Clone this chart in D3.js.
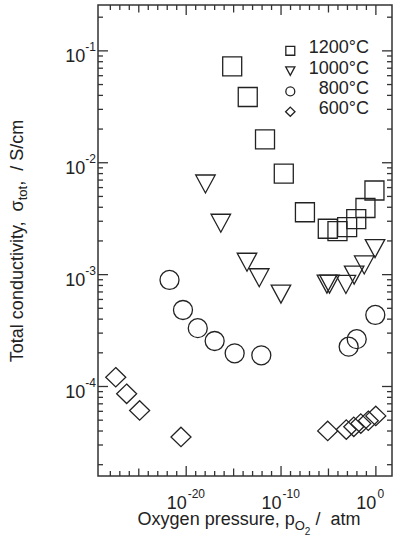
<html>
<script src="https://cdn.jsdelivr.net/npm/d3@7"></script>
<style>
body { margin: 0; background: #fff; }
text { font-family: "Liberation Sans", Arial, sans-serif; fill: #222; white-space: pre; }
.mark { fill: none; stroke: #222; stroke-width: 1.3; }
</style>
<body>
<svg width="395" height="538"></svg>
<script>
// log10 of oxygen pressure (atm) and total conductivity (S/cm) per temperature
var logP1200 = [-15.15, -13.51, -11.69, -9.71, -7.48, -5.07, -4.05, -3.03, -2.07, -1.10, -0.15];
var sig1200  = [0.0728, 0.0387, 0.0162, 0.00798, 0.00361, 0.00257, 0.00245, 0.00266, 0.00313, 0.00394, 0.00565];
var logP1000 = [-17.97, -16.35, -13.59, -12.30, -10.01, -5.16, -4.89, -3.16, -2.29, -1.23, -0.09];
var sig1000  = [0.00646, 0.00288, 0.00129, 0.000938, 0.000670, 0.000822, 0.000822, 0.000817, 0.000989, 0.00122, 0.00171];
var logP800  = [-21.76, -20.34, -18.78, -17.0, -14.89, -12.08, -2.87, -2.02, -0.06];
var sig800   = [0.000896, 0.000483, 0.000332, 0.000255, 0.000198, 0.000190, 0.000227, 0.000265, 0.000436];
var logP600  = [-27.43, -26.28, -24.91, -20.55, -5.08, -3.12, -2.33, -1.59, -0.80, -0.01];
var sig600   = [1.21e-4, 8.61e-5, 6.11e-5, 3.54e-5, 4.01e-5, 4.12e-5, 4.36e-5, 4.66e-5, 4.94e-5, 5.46e-5];

var seriesNames = ["1200°C", "1000°C", "800°C", "600°C"];
var xTickExps = [-20, -10, 0];
var yTickExps = [-1, -2, -3, -4];

var pLeft = 98, pRight = 392, pTop = 5, pBottom = 476;

var svg = d3.select("svg");

var x = d3.scaleLog().domain([Math.pow(10, -29.3), Math.pow(10, 1.7)]).range([pLeft, pRight]);
var y = d3.scaleLog().domain([Math.pow(10, -4.8), Math.pow(10, -0.59)]).range([pBottom, pTop]);

// marker shapes, k scales the size
function shape(kind, k) {
  if (kind == 0) { var s = 19 * k / 2; return "M" + (-s) + "," + (-s) + "h" + 2 * s + "v" + 2 * s + "h" + (-2 * s) + "Z"; }
  if (kind == 1) { var w = 19.5 * k / 2, h = 18 * k / 2; return "M" + (-w) + "," + (-h) + "L" + w + "," + (-h) + "L0," + h + "Z"; }
  if (kind == 2) { var r = 9.5 * k; return "M" + r + ",0A" + r + "," + r + " 0 1,1 " + (-r) + ",0A" + r + "," + r + " 0 1,1 " + r + ",0Z"; }
  var dw = 10 * k, dh = 9.7 * k;
  return "M0," + (-dh) + "L" + dw + ",0L0," + dh + "L" + (-dw) + ",0Z";
}

// frame
svg.append("rect").attr("x", pLeft).attr("y", pTop).attr("width", pRight - pLeft).attr("height", pBottom - pTop)
  .attr("fill", "none").attr("stroke", "#333").attr("stroke-width", 1.5);

// x ticks, every decade, inward on bottom and top
var xt = d3.range(-28, 1);
var ga = svg.append("g").attr("stroke", "#333").attr("stroke-width", 1.3);
xt.forEach(function(e) {
  var px = x(Math.pow(10, e));
  var len = e % 10 == 0 ? 10 : (e % 5 == 0 ? 7.5 : 5);
  ga.append("line").attr("x1", px).attr("x2", px).attr("y1", pBottom).attr("y2", pBottom - len);
  ga.append("line").attr("x1", px).attr("x2", px).attr("y1", pTop).attr("y2", pTop + len);
});

// y ticks, decades and 2..9
var yt = [];
for (var d = -5; d <= -1; d++) for (var m = 1; m <= 9; m++) {
  var v = m * Math.pow(10, d);
  if (v >= y.domain()[0] && v <= y.domain()[1]) yt.push({v: v, major: m == 1});
}
yt.forEach(function(t) {
  var py = y(t.v), len = t.major ? 10 : 5;
  ga.append("line").attr("x1", pLeft).attr("x2", pLeft + len).attr("y1", py).attr("y2", py);
  ga.append("line").attr("x1", pRight).attr("x2", pRight - len).attr("y1", py).attr("y2", py);
});

// tick labels: the "10" ends at the tick, exponent follows
xTickExps.forEach(function(e) {
  var px = x(Math.pow(10, e));
  var t = svg.append("text").attr("y", 509).attr("font-size", 18);
  var base = t.append("tspan").text("10");
  t.append("tspan").attr("dx", 1).attr("dy", -11).attr("font-size", 12).text(e == 0 ? "0" : "-" + (-e));
  t.attr("x", px + 0.5 - base.node().getComputedTextLength());
});
yTickExps.forEach(function(e) {
  var py = y(Math.pow(10, e));
  var t = svg.append("text").attr("x", 96).attr("y", py + 11.5).attr("text-anchor", "end").attr("font-size", 18);
  t.append("tspan").text("10");
  t.append("tspan").attr("dy", -11).attr("font-size", 12).text("-" + (-e));
});

// data
var all = [[logP1200, sig1200], [logP1000, sig1000], [logP800, sig800], [logP600, sig600]];
all.forEach(function(s, i) {
  svg.append("g").selectAll("path").data(d3.zip(s[0], s[1])).enter().append("path")
    .attr("class", "mark")
    .attr("transform", function(d) { return "translate(" + x(Math.pow(10, d[0])) + "," + y(d[1]) + ")"; })
    .attr("d", shape(i, 1));
});

// legend
seriesNames.forEach(function(n, i) {
  var by = 53.3 + i * 20.3;
  svg.append("path").attr("class", "mark").attr("transform", "translate(290.3," + (by - 2.5) + ")").attr("d", shape(i, 0.47));
  svg.append("text").attr("x", 369).attr("y", by).attr("text-anchor", "end").attr("font-size", 18).text(n);
});

// axis titles
var xl = svg.append("text").attr("x", 249).attr("y", 525).attr("text-anchor", "middle").attr("font-size", 18);
xl.append("tspan").text("Oxygen pressure, p");
xl.append("tspan").attr("dy", 5).attr("font-size", 13).text("O");
xl.append("tspan").attr("dy", 5).attr("font-size", 10).text("2");
xl.append("tspan").attr("dy", -10).attr("font-size", 18).text(" /  atm");

var yl = svg.append("text").attr("transform", "translate(23,241) rotate(-90)").attr("text-anchor", "middle").attr("font-size", 18);
yl.append("tspan").text("Total conductivity,  σ");
yl.append("tspan").attr("dy", 4).attr("font-size", 13).text("tot");
yl.append("tspan").attr("dy", -4).text(",  / S/cm");
</script>
</body>
</html>
